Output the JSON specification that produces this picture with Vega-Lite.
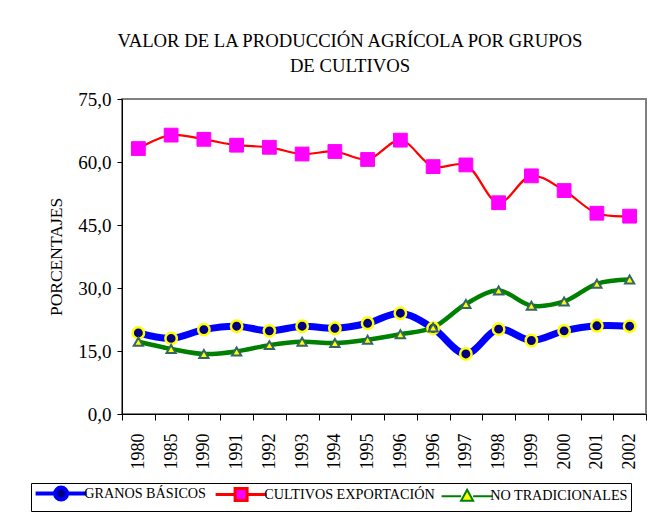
{
  "$schema": "https://vega.github.io/schema/vega-lite/v6.json",
  "width": 524,
  "height": 315,
  "autosize": {"type": "none"},
  "padding": {"left": 122, "top": 99, "right": 24, "bottom": 101},
  "background": "white",
  "title": {
    "text": ["VALOR DE LA PRODUCCIÓN AGRÍCOLA POR GRUPOS", "DE CULTIVOS"],
    "dx": -34,
    "offset": 14
  },
  "config": {
    "font": "Liberation Serif",
    "title": {"font": "Liberation Serif", "fontSize": 18.7, "fontWeight": "normal", "color": "black", "lineHeight": 25, "anchor": "middle"},
    "view": {"stroke": "#808080", "strokeWidth": 2},
    "axis": {
      "labelFont": "Liberation Serif",
      "titleFont": "Liberation Serif",
      "labelColor": "black",
      "titleColor": "black",
      "domainColor": "black",
      "tickColor": "black",
      "grid": false
    },
    "legend": {
      "orient": "none",
      "direction": "horizontal",
      "legendX": -91,
      "legendY": 384,
      "strokeColor": "black",
      "fillColor": "white",
      "padding": 3,
      "cornerRadius": 0,
      "columnPadding": 2,
      "symbolSize": 100,
      "symbolOffset": 20,
      "labelOffset": 16,
      "labelFont": "Liberation Serif",
      "labelFontSize": 14.2,
      "labelColor": "black",
      "labelLimit": 300
    }
  },
  "data": {
    "values": [
      {"anio": "1980", "serie": "GRANOS BÁSICOS", "valor": 19.3},
      {"anio": "1985", "serie": "GRANOS BÁSICOS", "valor": 18.0},
      {"anio": "1990", "serie": "GRANOS BÁSICOS", "valor": 20.1},
      {"anio": "1991", "serie": "GRANOS BÁSICOS", "valor": 20.9},
      {"anio": "1992", "serie": "GRANOS BÁSICOS", "valor": 19.8},
      {"anio": "1993", "serie": "GRANOS BÁSICOS", "valor": 20.9},
      {"anio": "1994", "serie": "GRANOS BÁSICOS", "valor": 20.4},
      {"anio": "1995", "serie": "GRANOS BÁSICOS", "valor": 21.6},
      {"anio": "1996", "serie": "GRANOS BÁSICOS", "valor": 24.0},
      {"anio": "1996b", "serie": "GRANOS BÁSICOS", "valor": 20.4},
      {"anio": "1997", "serie": "GRANOS BÁSICOS", "valor": 14.3},
      {"anio": "1998", "serie": "GRANOS BÁSICOS", "valor": 20.2},
      {"anio": "1999", "serie": "GRANOS BÁSICOS", "valor": 17.5},
      {"anio": "2000", "serie": "GRANOS BÁSICOS", "valor": 19.8},
      {"anio": "2001", "serie": "GRANOS BÁSICOS", "valor": 21.0},
      {"anio": "2002", "serie": "GRANOS BÁSICOS", "valor": 20.9},
      {"anio": "1980", "serie": "CULTIVOS EXPORTACIÓN", "valor": 63.2},
      {"anio": "1985", "serie": "CULTIVOS EXPORTACIÓN", "valor": 66.4},
      {"anio": "1990", "serie": "CULTIVOS EXPORTACIÓN", "valor": 65.4},
      {"anio": "1991", "serie": "CULTIVOS EXPORTACIÓN", "valor": 64.0},
      {"anio": "1992", "serie": "CULTIVOS EXPORTACIÓN", "valor": 63.5},
      {"anio": "1993", "serie": "CULTIVOS EXPORTACIÓN", "valor": 61.9},
      {"anio": "1994", "serie": "CULTIVOS EXPORTACIÓN", "valor": 62.5},
      {"anio": "1995", "serie": "CULTIVOS EXPORTACIÓN", "valor": 60.6},
      {"anio": "1996", "serie": "CULTIVOS EXPORTACIÓN", "valor": 65.2},
      {"anio": "1996b", "serie": "CULTIVOS EXPORTACIÓN", "valor": 58.9},
      {"anio": "1997", "serie": "CULTIVOS EXPORTACIÓN", "valor": 59.3},
      {"anio": "1998", "serie": "CULTIVOS EXPORTACIÓN", "valor": 50.3},
      {"anio": "1999", "serie": "CULTIVOS EXPORTACIÓN", "valor": 56.7},
      {"anio": "2000", "serie": "CULTIVOS EXPORTACIÓN", "valor": 53.2},
      {"anio": "2001", "serie": "CULTIVOS EXPORTACIÓN", "valor": 47.8},
      {"anio": "2002", "serie": "CULTIVOS EXPORTACIÓN", "valor": 47.1},
      {"anio": "1980", "serie": "NO TRADICIONALES", "valor": 17.2},
      {"anio": "1985", "serie": "NO TRADICIONALES", "valor": 15.5},
      {"anio": "1990", "serie": "NO TRADICIONALES", "valor": 14.3},
      {"anio": "1991", "serie": "NO TRADICIONALES", "valor": 14.9},
      {"anio": "1992", "serie": "NO TRADICIONALES", "valor": 16.4},
      {"anio": "1993", "serie": "NO TRADICIONALES", "valor": 17.2},
      {"anio": "1994", "serie": "NO TRADICIONALES", "valor": 16.9},
      {"anio": "1995", "serie": "NO TRADICIONALES", "valor": 17.7},
      {"anio": "1996", "serie": "NO TRADICIONALES", "valor": 19.0},
      {"anio": "1996b", "serie": "NO TRADICIONALES", "valor": 20.6},
      {"anio": "1997", "serie": "NO TRADICIONALES", "valor": 26.2},
      {"anio": "1998", "serie": "NO TRADICIONALES", "valor": 29.4},
      {"anio": "1999", "serie": "NO TRADICIONALES", "valor": 25.8},
      {"anio": "2000", "serie": "NO TRADICIONALES", "valor": 26.8},
      {"anio": "2001", "serie": "NO TRADICIONALES", "valor": 31.0},
      {"anio": "2002", "serie": "NO TRADICIONALES", "valor": 32.0}
    ]
  },
  "encoding": {
    "x": {
      "field": "anio",
      "type": "nominal",
      "scale": {
        "type": "band",
        "paddingInner": 0,
        "paddingOuter": 0,
        "domain": ["1980", "1985", "1990", "1991", "1992", "1993", "1994", "1995", "1996", "1996b", "1997", "1998", "1999", "2000", "2001", "2002"]
      },
      "axis": {
        "title": null,
        "labelAngle": 270,
        "labelAlign": "right",
        "labelBaseline": "middle",
        "labelFontSize": 18,
        "labelPadding": 13,
        "tickBand": "extent",
        "tickSize": 6,
        "labelExpr": "isValid(datum.value) ? replace(datum.value, 'b', '') : ''"
      }
    },
    "y": {
      "field": "valor",
      "type": "quantitative",
      "scale": {"domain": [0, 75], "nice": false},
      "axis": {
        "title": "PORCENTAJES",
        "titleFontSize": 17.5,
        "titleFontWeight": "normal",
        "titlePadding": 12,
        "values": [0, 15, 30, 45, 60, 75],
        "labelExpr": "replace(format(datum.value, '.1f'), '.', ',')",
        "labelFontSize": 19,
        "labelPadding": 6,
        "tickSize": 5
      }
    }
  },
  "layer": [
    {
      "transform": [{"filter": "datum.serie === 'GRANOS BÁSICOS'"}],
      "mark": {"type": "line", "interpolate": "catmull-rom", "stroke": "#0000FF", "strokeWidth": 7},
      "encoding": {}
    },
    {
      "transform": [{"filter": "datum.serie === 'CULTIVOS EXPORTACIÓN'"}],
      "mark": {"type": "line", "interpolate": "catmull-rom", "stroke": "#FF0000", "strokeWidth": 2.2},
      "encoding": {}
    },
    {
      "transform": [{"filter": "datum.serie === 'NO TRADICIONALES'"}],
      "mark": {"type": "line", "interpolate": "catmull-rom", "stroke": "#008000", "strokeWidth": 4.5},
      "encoding": {}
    },
    {
      "transform": [{"filter": "datum.serie === 'GRANOS BÁSICOS'"}],
      "mark": {"type": "point", "shape": "circle", "filled": true, "fill": "#000080", "stroke": "#FFFF00", "strokeWidth": 2.5, "size": 130, "opacity": 1}
    },
    {
      "transform": [{"filter": "datum.serie === 'CULTIVOS EXPORTACIÓN'"}],
      "mark": {"type": "point", "shape": "square", "filled": true, "fill": "#FF00FF", "stroke": "#FF00FF", "strokeWidth": 1, "size": 190, "opacity": 1}
    },
    {
      "transform": [{"filter": "datum.serie === 'NO TRADICIONALES'"}],
      "mark": {"type": "point", "shape": "triangle-up", "filled": true, "fill": "#FFFF00", "stroke": "#336666", "strokeWidth": 2, "size": 85, "opacity": 1}
    },
    {
      "transform": [{"filter": "datum.valor < -1000"}],
      "mark": {"type": "point", "filled": true, "opacity": 1},
      "encoding": {
        "stroke": {
          "field": "serie",
          "type": "nominal",
          "scale": {
            "domain": ["GRANOS BÁSICOS", "CULTIVOS EXPORTACIÓN", "NO TRADICIONALES"],
            "range": ["#0000FF", "#FF0000", "#008000"]
          },
          "legend": {"title": null}
        },
        "strokeWidth": {
          "field": "serie",
          "type": "nominal",
          "scale": {
            "domain": ["GRANOS BÁSICOS", "CULTIVOS EXPORTACIÓN", "NO TRADICIONALES"],
            "range": [4, 2, 3.5]
          },
          "legend": {"title": null}
        },
        "fill": {
          "field": "serie",
          "type": "nominal",
          "scale": {
            "domain": ["GRANOS BÁSICOS", "CULTIVOS EXPORTACIÓN", "NO TRADICIONALES"],
            "range": ["#000080", "#FF00FF", "#FFFF00"]
          },
          "legend": {"title": null}
        },
        "shape": {
          "field": "serie",
          "type": "nominal",
          "scale": {
            "domain": ["GRANOS BÁSICOS", "CULTIVOS EXPORTACIÓN", "NO TRADICIONALES"],
            "range": [
              "M-5.1,0H-1.2M1.2,0H5.1M1.2,0A1.2,1.2 0 1 1 -1.2,0A1.2,1.2 0 1 1 1.2,0Z",
              "M-5.1,0H-1.2M1.2,0H5.1M-1.2,-1.2H1.2V1.2H-1.2Z",
              "M-5.1,0H-1.2M1.2,0H5.1M0,-1.3L1.2,0.9L-1.2,0.9Z"
            ]
          },
          "legend": {"title": null}
        }
      }
    }
  ]
}
